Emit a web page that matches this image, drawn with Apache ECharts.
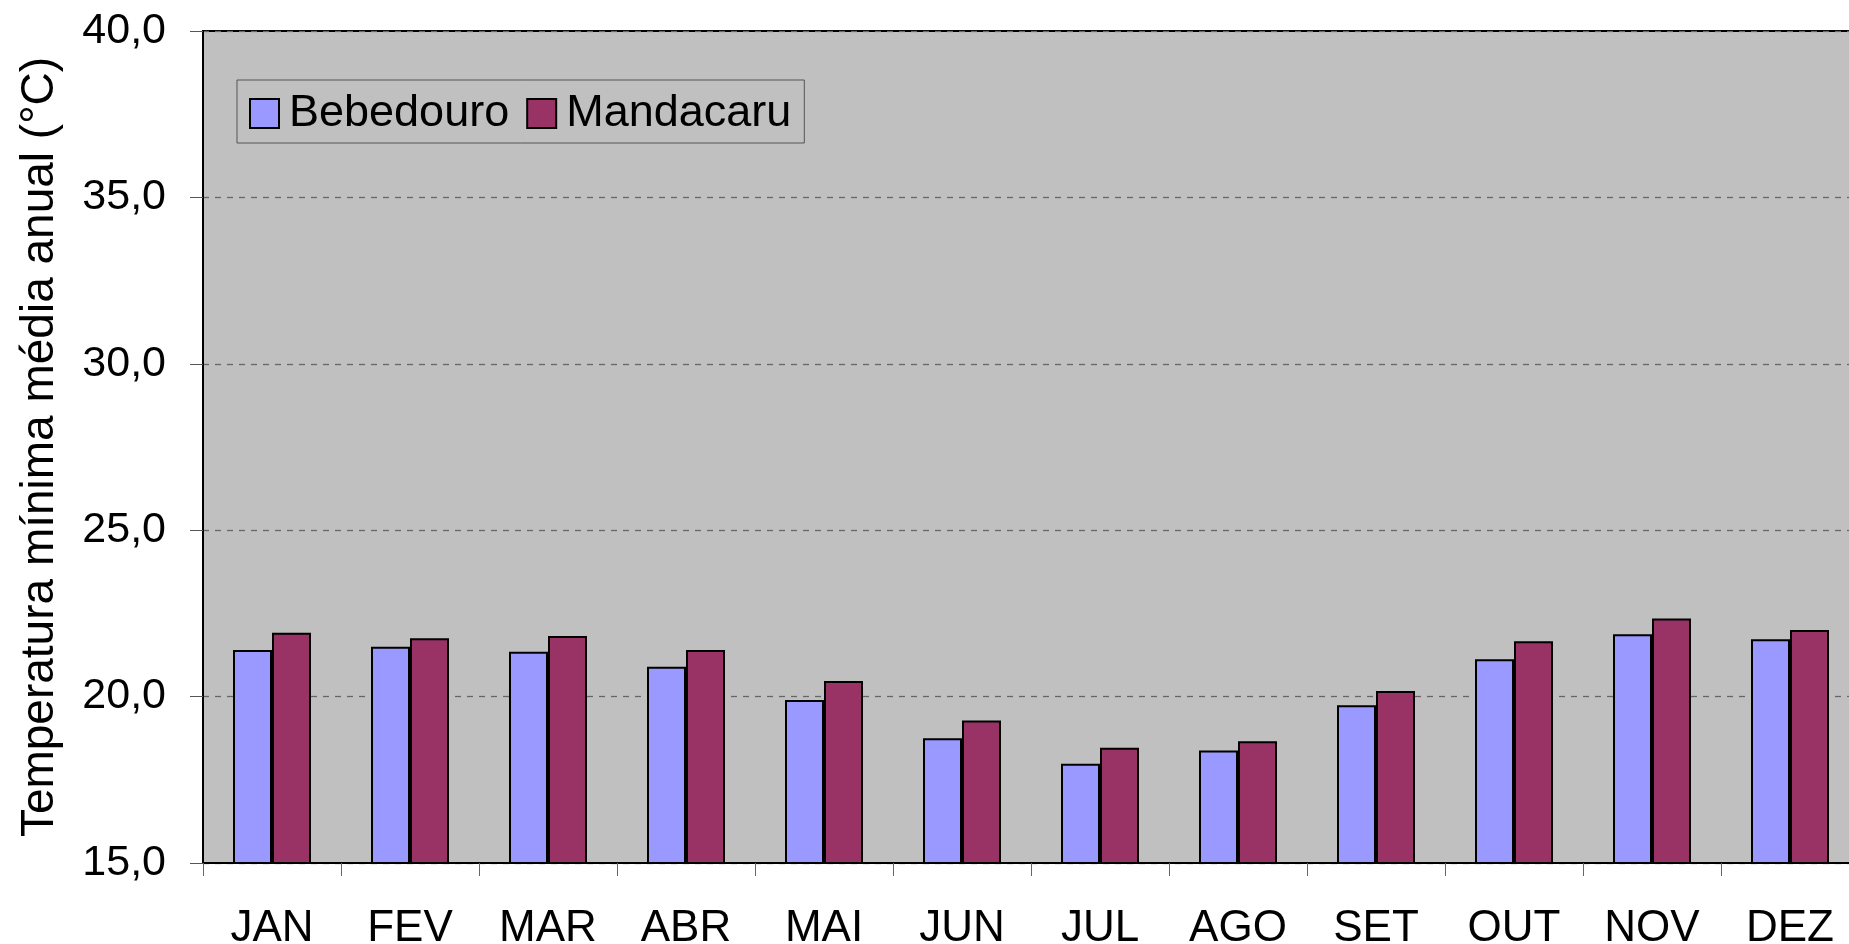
<!DOCTYPE html>
<html>
<head>
<meta charset="utf-8">
<script src="https://cdn.jsdelivr.net/npm/echarts@6/dist/echarts.min.js"></script>
<style>
  html, body { margin: 0; padding: 0; background: #fff; }
  #chart { width: 1849px; height: 944px; }
</style>
</head>
<body>
<div id="chart"></div>
<script>
// meses
var months = ['JAN', 'FEV', 'MAR', 'ABR', 'MAI', 'JUN', 'JUL', 'AGO', 'SET', 'OUT', 'NOV', 'DEZ'];
// temperatura minima media (°C)
var bebedouro = [21.4, 21.5, 21.35, 20.9, 19.9, 18.75, 17.98, 18.38, 19.74, 21.12, 21.87, 21.72];
var mandacaru = [21.92, 21.75, 21.82, 21.4, 20.47, 19.28, 18.46, 18.66, 20.17, 21.66, 22.35, 22.0];
var yTicks = [15, 20, 25, 30, 35, 40];
var yTickLabels = ['15,0', '20,0', '25,0', '30,0', '35,0', '40,0'];

var fontFam = '"Liberation Sans", Arial, sans-serif';

var myChart = echarts.init(document.getElementById('chart'));

var option = {
    animation: false,
    backgroundColor: '#fff',
    grid: {
        left: 203,
        top: 31,
        bottom: 81,
        right: -10,
        outerBoundsMode: 'none',
        containLabel: false,
        show: true,
        backgroundColor: '#C0C0C0',
        borderColor: '#000',
        borderWidth: 2
    },
    legend: {
        left: 237,
        top: 80,
        padding: [11, 13, 7, 12],
        itemWidth: 29,
        itemHeight: 29,
        itemGap: 17,
        borderColor: '#555',
        borderWidth: 1,
        icon: 'rect',
        textStyle: {
            fontFamily: fontFam,
            fontSize: 45,
            color: '#000',
            padding: [0, 0, 0, 5]
        },
        data: ['Bebedouro', 'Mandacaru']
    },
    xAxis: {
        type: 'category',
        data: months,
        axisLine: { lineStyle: { color: '#000', width: 2 } },
        axisTick: { show: true, length: 13, lineStyle: { color: '#666', width: 1 } },
        axisLabel: {
            interval: 0,
            margin: 44,
            fontFamily: fontFam,
            fontSize: 44,
            color: '#000'
        }
    },
    yAxis: {
        type: 'value',
        min: 15,
        max: 40,
        interval: 5,
        name: 'Temperatura mínima média anual (°C)',
        nameLocation: 'middle',
        nameRotate: 90,
        nameGap: 140,
        nameTextStyle: { fontFamily: fontFam, fontSize: 46, color: '#000' },
        axisLine: { show: true, lineStyle: { color: '#000', width: 2 } },
        axisTick: { show: true, length: 13, lineStyle: { color: '#555', width: 1 } },
        axisLabel: {
            margin: 37,
            fontFamily: fontFam,
            fontSize: 43,
            color: '#000',
            formatter: function (v) {
                var i = yTicks.indexOf(v);
                return i >= 0 ? yTickLabels[i] : '';
            }
        },
        splitLine: {
            show: true,
            lineStyle: { color: '#666', width: 1.3, type: [6, 6] }
        }
    },
    series: [
        {
            name: 'Bebedouro',
            type: 'bar',
            data: bebedouro,
            barWidth: 39,
            barGap: '0%',
            itemStyle: { color: '#9999FF', borderColor: '#000', borderWidth: 2 }
        },
        {
            name: 'Mandacaru',
            type: 'bar',
            data: mandacaru,
            barWidth: 39,
            barGap: '0%',
            itemStyle: { color: '#993366', borderColor: '#000', borderWidth: 2 }
        }
    ]
};

myChart.setOption(option);
</script>
</body>
</html>
